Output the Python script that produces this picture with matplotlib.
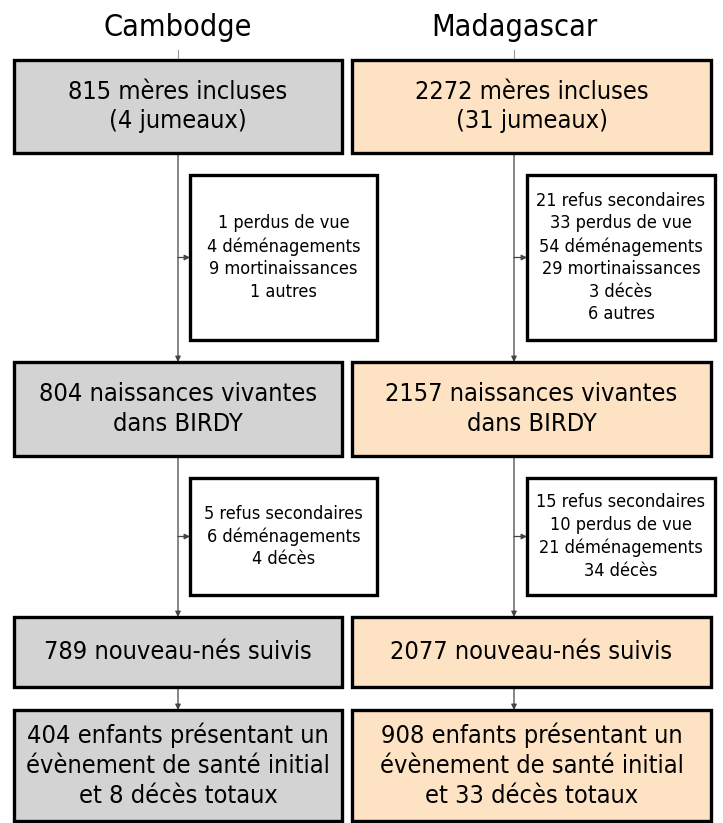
import matplotlib.pyplot as plt
from matplotlib.patches import Rectangle

# flowchart content
countries = ["Cambodge", "Madagascar"]
inclus = ["815 mères incluses\n(4 jumeaux)", "2272 mères incluses\n(31 jumeaux)"]
exclus_1 = [
    ["1 perdus de vue", "4 déménagements", "9 mortinaissances", "1 autres"],
    ["21 refus secondaires", "33 perdus de vue", "54 déménagements",
     "29 mortinaissances", "3 décès", "6 autres"],
]
naissances = ["804 naissances vivantes\ndans BIRDY", "2157 naissances vivantes\ndans BIRDY"]
exclus_2 = [
    ["5 refus secondaires", "6 déménagements", "4 décès"],
    ["15 refus secondaires", "10 perdus de vue", "21 déménagements", "34 décès"],
]
suivis = ["789 nouveau-nés suivis", "2077 nouveau-nés suivis"]
evenements = ["404 enfants présentant un\névènement de santé initial\net 8 décès totaux",
              "908 enfants présentant un\névènement de santé initial\net 33 décès totaux"]
fills = ["#d3d3d3", "#fde2c4"]

plt.rcParams['font.family'] = ['DejaVu Sans']

fig = plt.figure(figsize=(7.23, 8.23), dpi=100)
ax = fig.add_axes([0, 0, 1, 1])
ax.set_xlim(0, 723)
ax.set_ylim(823, 0)
ax.axis('off')

# layout (pixels)
main_x = [(14, 342), (352, 711)]
line_x = [178, 514]
side_x = [(190, 377), (527, 715)]
rows = [(60, 153), (362, 456), (617, 687), (710, 821)]
side_rows = [(175, 340), (478, 595)]

big = dict(fontsize=18.2, ha='center', va='center', fontstretch='condensed', linespacing=1.31)
small = dict(fontsize=13, ha='center', va='center', fontstretch='condensed', linespacing=1.33)


def box(x0, x1, y0, y1, fc):
    ax.add_patch(Rectangle((x0, y0), x1 - x0, y1 - y0, fc=fc, ec='black', lw=2.4, zorder=3))


def arrow(x0, y0, x1, y1):
    ax.annotate('', xy=(x1, y1), xytext=(x0, y0),
                arrowprops=dict(arrowstyle='-|>', color='#444444', lw=0.9,
                                mutation_scale=8, shrinkA=0, shrinkB=0), zorder=2)


for i in range(2):
    x0, x1 = main_x[i]
    cx = (x0 + x1) / 2
    lx = line_x[i]
    ax.text(lx, 27, countries[i], fontsize=22, ha='center', va='center', fontstretch='condensed')
    ax.plot([lx, lx], [50, rows[0][0]], color='#999999', lw=0.8, zorder=1)

    texts = [inclus[i], naissances[i], suivis[i], evenements[i]]
    for (y0, y1), t in zip(rows, texts):
        box(x0, x1, y0, y1, fills[i])
        ax.text(cx, (y0 + y1) / 2, t, zorder=4, **big)

    # connectors between main boxes
    for k in range(3):
        arrow(lx, rows[k][1], lx, rows[k + 1][0])

    # exclusion boxes
    sx0, sx1 = side_x[i]
    for (y0, y1), lines in zip(side_rows, [exclus_1[i], exclus_2[i]]):
        box(sx0, sx1, y0, y1, 'white')
        ym = (y0 + y1) / 2
        ax.text((sx0 + sx1) / 2, ym, "\n".join(lines), zorder=4, **small)
        arrow(lx, ym, sx0, ym)

fig.savefig('out.png', dpi=100)
